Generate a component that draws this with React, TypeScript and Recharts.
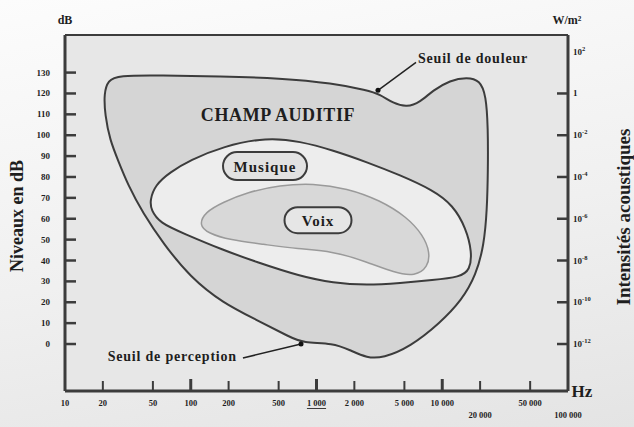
import { ComposedChart, Scatter, XAxis, YAxis, ReferenceLine, ReferenceDot } from 'recharts';

// axes
const freqTicks = [10, 20, 50, 100, 200, 500, 1000, 2000, 5000, 10000, 20000, 50000, 100000];
const freqLabels = ['10', '20', '50', '100', '200', '500', '1 000', '2 000', '5 000', '10 000', '20 000', '50 000', '100 000'];
const freqRow = [0, 0, 0, 0, 0, 0, 0, 0, 0, 0, 1, 0, 1];
const majorFreqs = [100, 1000, 10000];
const dbTicks = [0, 10, 20, 30, 40, 50, 60, 70, 80, 90, 100, 110, 120, 130];
const intensityTicks = [0, 20, 40, 60, 80, 100, 120, 140];
const intensityBase = ['10', '10', '10', '10', '10', '10', '1', '10'];
const intensityExp = ['-12', '-10', '-8', '-6', '-4', '-2', '', '2'];

// champ auditif (contour, Hz / dB)
const champFreq = [20.4, 22.0, 26.4, 57, 171, 512, 1353, 2521, 3199, 4058, 5245, 6655, 8441, 11530, 15733, 19962, 22280, 23110, 23110, 22690, 21480, 18560, 14350, 9590, 5540, 3380, 2521, 1847, 1353, 781, 615, 336, 180.5, 98.6, 60.2, 41.7, 31.7, 26.4, 22.8, 20.8];
const champDb = [120.1, 126.3, 128.7, 128.7, 128.2, 127.3, 124.9, 121.5, 119.6, 115.3, 113.4, 115.8, 121.5, 126.3, 127.8, 126.3, 119.1, 103.8, 83.3, 64.1, 47.4, 33.0, 21.1, 10.0, -1.4, -6.7, -6.7, -2.9, 0.5, 0.5, 3.3, 11.5, 19.6, 32.1, 48.3, 62.7, 76.1, 88.0, 97.6, 109.6];

// musique
const musiqueFreq = [47.4, 52.0, 68.4, 98.6, 180.5, 404, 739, 1353, 2521, 4613, 8441, 12175, 15450, 17245, 16625, 13840, 8441, 4613, 2521, 1353, 739, 336, 180.5, 86.8, 57.0, 48.3];
const musiqueDb = [68.9, 76.1, 82.3, 88.0, 94.7, 99.0, 97.1, 92.8, 87.1, 80.9, 73.7, 66.5, 55.5, 44.0, 35.4, 32.1, 30.6, 29.2, 28.2, 29.2, 32.5, 39.2, 45.0, 53.1, 57.9, 64.1];

// voix
const voixFreq = [116.3, 129.8, 180.5, 280.2, 512.5, 938, 1748, 3199, 5245, 7030, 7990, 7702, 6072, 4210, 2431, 1328, 713, 375.4, 205.2, 137.2];
const voixDb = [56.9, 63.2, 67.9, 72.7, 76.1, 77.0, 74.6, 68.9, 60.8, 52.2, 44.0, 36.8, 32.5, 34.0, 39.7, 44.5, 45.5, 47.8, 49.8, 53.1];

const toPoints = (fs: number[], dbs: number[]) => fs.map((f, i) => ({ f, db: dbs[i] }));
const champData = toPoints(champFreq, champDb);
const musiqueData = toPoints(musiqueFreq, musiqueDb);
const voixData = toPoints(voixFreq, voixDb);

const F_MIN = 10;
const F_MAX = 100000;
const DB_MIN = -22.5;
const DB_MAX = 148;

// points where the inward tick marks sit on the frame
const leftMarks = dbTicks.map((db) => ({ f: F_MIN, db }));
const rightMarks = intensityTicks.filter((db) => db <= 120).map((db) => ({ f: F_MAX, db }));
const bottomMarks = freqTicks.filter((f) => f > F_MIN && f < F_MAX).map((f) => ({ f, db: DB_MIN }));

const SERIF = '"Liberation Serif", "Times New Roman", serif';
const INK = '#1e1e1e';
const LINE = '#3c3c3c';

const noDot = () => <g />;

const leftMark = (p: any) => <line x1={p.cx} x2={p.cx + 11} y1={p.cy} y2={p.cy} stroke={LINE} strokeWidth={2.5} />;
const rightMark = (p: any) => <line x1={p.cx - 11} x2={p.cx} y1={p.cy} y2={p.cy} stroke={LINE} strokeWidth={2.5} />;
const bottomMark = (p: any) => {
  const major = majorFreqs.includes(p.payload?.f);
  return <line x1={p.cx} x2={p.cx} y1={p.cy} y2={p.cy - (major ? 12 : 10)} stroke={LINE} strokeWidth={major ? 3 : 2} />;
};

function LeftTick({ x, y, payload }: any) {
  return (
    <text x={x} y={y} textAnchor="end" dominantBaseline="central" fontFamily={SERIF} fontWeight="bold" fontSize={9} fill={INK}>
      {payload.value}
    </text>
  );
}

function RightTick({ x, y, index }: any) {
  const exp = intensityExp[index];
  return (
    <text x={x} y={y} textAnchor="start" dominantBaseline="central" fontFamily={SERIF} fontWeight="bold" fontSize={9} fill={INK}>
      <tspan fill={INK}>{intensityBase[index]}</tspan>
      {exp && <tspan dy={-4} fontSize={6.5} fill={INK}>{exp}</tspan>}
    </text>
  );
}

function BottomTick({ x, y, payload, index }: any) {
  return (
    <text
      x={x}
      y={y + freqRow[index] * 12}
      textAnchor="middle"
      dominantBaseline="central"
      fontFamily={SERIF}
      fontWeight="bold"
      fontSize={8.5}
      fill={INK}
      textDecoration={payload.value === 1000 ? 'underline' : undefined}
    >
      {freqLabels[index]}
    </text>
  );
}

const caption = (text: string, size: number, anchor: 'start' | 'middle' | 'end', spacing: number) => (p: any) => (
  <text x={p.cx} y={p.cy} textAnchor={anchor} dominantBaseline="central" fontFamily={SERIF} fontWeight="bold" fontSize={size} letterSpacing={spacing} fill={INK}>
    {text}
  </text>
);

const badge = (text: string, w: number, h: number, bg: string) => (p: any) => (
  <g>
    <rect x={p.cx - w / 2} y={p.cy - h / 2} width={w} height={h} rx={h / 2} fill={bg} stroke={LINE} strokeWidth={2} />
    <text x={p.cx} y={p.cy + 1} textAnchor="middle" dominantBaseline="central" fontFamily={SERIF} fontWeight="bold" fontSize={15} letterSpacing={1} fill={INK}>
      {text}
    </text>
  </g>
);

export default function App() {
  return (
    <div
      style={{
        position: 'absolute',
        left: 0,
        top: 0,
        width: 634,
        height: 427,
        background: 'linear-gradient(170deg, #fcfcfc 0%, #f0f0f0 55%, #e4e4e4 100%)',
      }}
    >
      {/* plot background */}
      <div style={{ position: 'absolute', left: 65, top: 35, width: 503, height: 356, background: '#e7e7e7' }} />
      <ComposedChart width={634} height={427} margin={{ top: 35, right: 0, bottom: 0, left: 0 }} style={{ position: 'absolute', left: 0, top: 0 }}>
        <XAxis
          dataKey="f"
          type="number"
          scale="log"
          domain={[F_MIN, F_MAX]}
          allowDataOverflow
          ticks={freqTicks}
          interval={0}
          height={36}
          tickLine={false}
          tickSize={0}
          tickMargin={12}
          axisLine={{ stroke: LINE, strokeWidth: 3 }}
          tick={<BottomTick />}
        />
        <YAxis
          yAxisId="db"
          dataKey="db"
          type="number"
          domain={[DB_MIN, DB_MAX]}
          allowDataOverflow
          ticks={dbTicks}
          interval={0}
          width={65}
          tickLine={false}
          tickSize={0}
          tickMargin={15}
          axisLine={{ stroke: LINE, strokeWidth: 3 }}
          tick={<LeftTick />}
        />
        <YAxis
          yAxisId="w"
          dataKey="db"
          orientation="right"
          type="number"
          domain={[DB_MIN, DB_MAX]}
          allowDataOverflow
          ticks={intensityTicks}
          interval={0}
          width={66}
          tickLine={false}
          tickSize={0}
          tickMargin={5}
          axisLine={{ stroke: LINE, strokeWidth: 3 }}
          tick={<RightTick />}
        />
        <ReferenceLine yAxisId="db" y={DB_MAX} stroke={LINE} strokeWidth={2} />

        <Scatter
          yAxisId="db"
          data={champData}
          dataKey="db"
          fill="#d4d4d4"
          line={{ fill: '#d5d5d5', stroke: LINE, strokeWidth: 2 }}
          lineJointType="basisClosed"
          shape={noDot}
          isAnimationActive={false}
        />
        <Scatter
          yAxisId="db"
          data={musiqueData}
          dataKey="db"
          fill="#eeeeee"
          line={{ fill: '#ededed', stroke: LINE, strokeWidth: 2 }}
          lineJointType="basisClosed"
          shape={noDot}
          isAnimationActive={false}
        />
        <Scatter
          yAxisId="db"
          data={voixData}
          dataKey="db"
          fill="#d6d6d6"
          line={{ fill: '#d8d8d8', stroke: '#9a9a9a', strokeWidth: 1.5 }}
          lineJointType="basisClosed"
          shape={noDot}
          isAnimationActive={false}
        />
        {/* binds the intensity axis to the same dB values */}
        <Scatter yAxisId="w" data={champData} dataKey="db" shape={noDot} isAnimationActive={false} />

        {/* inward tick marks on the frame */}
        <Scatter yAxisId="db" data={leftMarks} dataKey="db" shape={leftMark} isAnimationActive={false} />
        <Scatter yAxisId="db" data={rightMarks} dataKey="db" shape={rightMark} isAnimationActive={false} />
        <Scatter yAxisId="db" data={bottomMarks} dataKey="db" shape={bottomMark} isAnimationActive={false} />

        <ReferenceDot yAxisId="db" x={494} y={109.6} shape={caption('CHAMP AUDITIF', 18, 'middle', 0.6)} zIndex={900} />
        <ReferenceDot yAxisId="db" x={389.5} y={85.2} shape={badge('Musique', 84, 28, '#e2e2e2')} zIndex={900} />
        <ReferenceDot yAxisId="db" x={1028} y={59.3} shape={badge('Voix', 67, 26, '#e6e6e6')} zIndex={900} />

        <ReferenceLine yAxisId="db" segment={[{ x: 3083, y: 121.5 }, { x: 6185, y: 134.9 }]} stroke="#222" strokeWidth={1.5} zIndex={900} />
        <ReferenceDot yAxisId="db" x={3083} y={121.5} r={2.5} fill="#111" stroke="none" zIndex={900} />
        <ReferenceDot yAxisId="db" x={6412} y={136.8} shape={caption('Seuil de douleur', 14, 'start', 0.8)} zIndex={900} />

        <ReferenceLine yAxisId="db" segment={[{ x: 260, y: -6.7 }, { x: 753, y: 0 }]} stroke="#222" strokeWidth={1.5} zIndex={900} />
        <ReferenceDot yAxisId="db" x={753} y={0} r={2.5} fill="#111" stroke="none" zIndex={900} />
        <ReferenceDot yAxisId="db" x={233} y={-6.2} shape={caption('Seuil de perception', 14, 'end', 0.8)} zIndex={900} />
      </ComposedChart>

      <svg width={634} height={427} style={{ position: 'absolute', left: 0, top: 0, pointerEvents: 'none' }}>
        <g fontFamily={SERIF} fontWeight="bold" fill={INK}>
          <text x={65} y={20} textAnchor="middle" dominantBaseline="central" fontSize={12}>dB</text>
          <text x={567} y={20} textAnchor="middle" dominantBaseline="central" fontSize={12}>W/m²</text>
          <text x={582} y={391} textAnchor="middle" dominantBaseline="central" fontSize={17}>Hz</text>
          <text x={17} y={216} textAnchor="middle" dominantBaseline="central" fontSize={18} transform="rotate(-90 17 216)">
            Niveaux en dB
          </text>
          <text x={623} y={217} textAnchor="middle" dominantBaseline="central" fontSize={19} transform="rotate(-90 623 217)">
            Intensités acoustiques
          </text>
        </g>
      </svg>
    </div>
  );
}
